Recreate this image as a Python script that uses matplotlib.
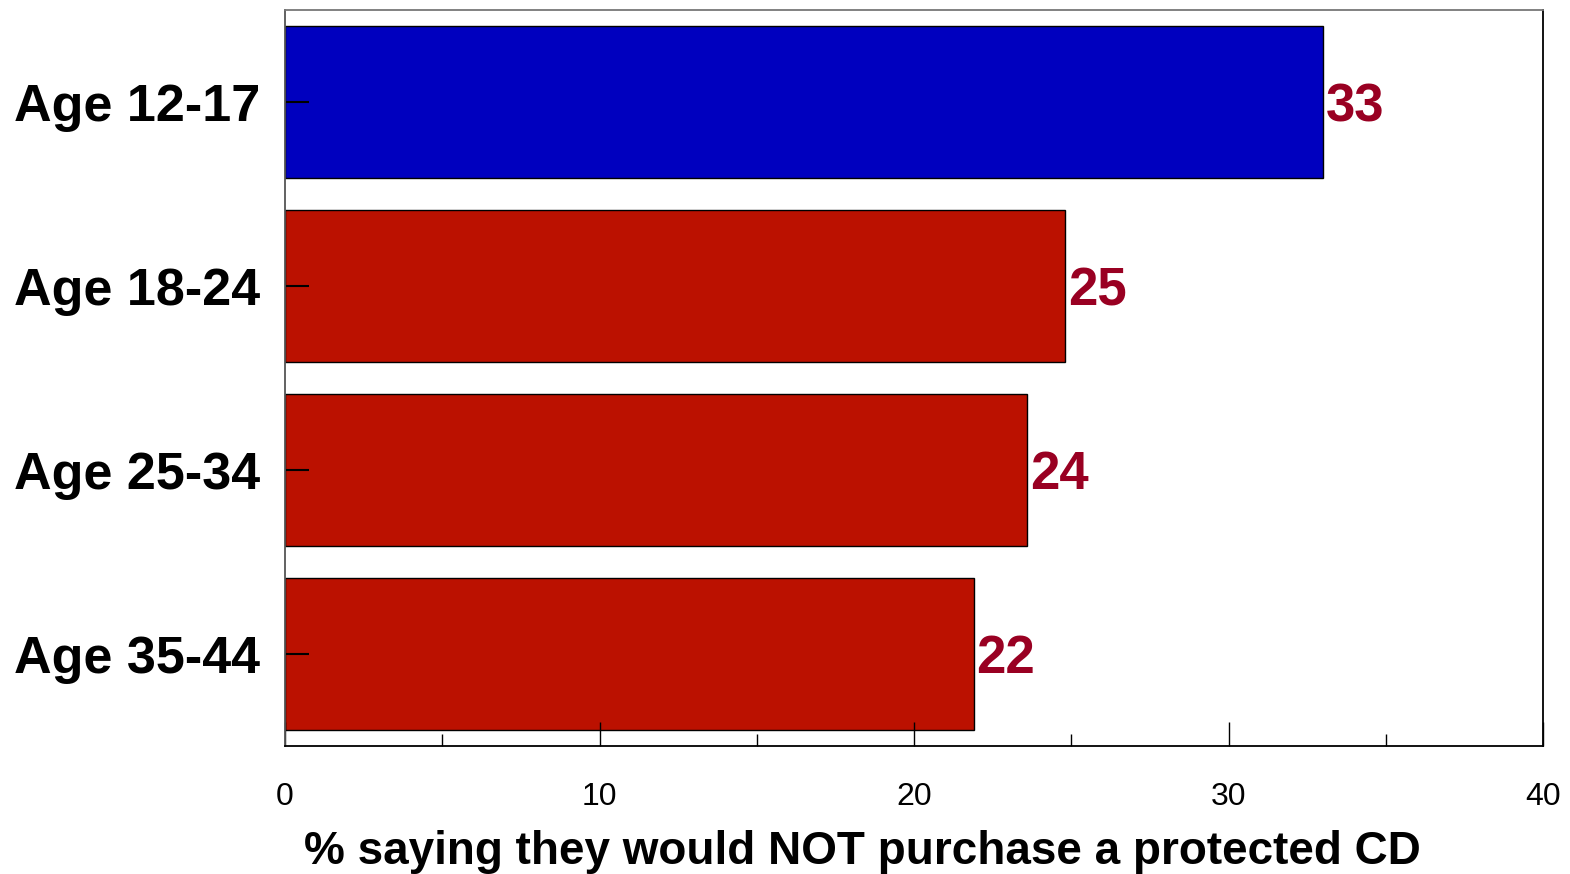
import matplotlib
matplotlib.use("Agg")
import matplotlib.pyplot as plt
from matplotlib.ticker import MultipleLocator

plt.rcParams['font.family'] = ['Liberation Sans', 'DejaVu Sans']

categories = ["Age 12-17", "Age 18-24", "Age 25-34", "Age 35-44"]
values = [33.0, 24.8, 23.6, 21.9]
bar_colors = ["#0000BF", "#BB1100", "#BB1100", "#BB1100"]
x_ticks = [0, 10, 20, 30, 40]
x_label = "% saying they would NOT purchase a protected CD"

fig = plt.figure(figsize=(15.7, 8.74), dpi=100)
ax = fig.add_axes([0.1815, 0.1465, 0.8015, 0.842])

pos = list(range(len(categories)))
ax.barh(pos, values, height=0.83, color=bar_colors, edgecolor="black", linewidth=1.0)
for p, v in zip(pos, values):
    ax.text(v + 0.08, p, f"{round(v):d}", va="center_baseline", ha="left",
            fontsize=38, fontweight="bold", color="#990022")

ax.set_xlim(0, 40)
ax.set_ylim(len(categories) - 0.5, -0.5)
ax.set_yticks(pos)
ax.set_yticklabels(categories, fontsize=37.5, fontweight="bold")
ax.set_xticks(x_ticks)
ax.set_xticklabels([str(t) for t in x_ticks], fontsize=23)
ax.xaxis.set_minor_locator(MultipleLocator(5))
ax.tick_params(axis="x", which="major", direction="in", length=17, width=1, pad=26)
ax.tick_params(axis="x", which="minor", direction="in", length=9, width=1)
ax.tick_params(axis="y", which="major", direction="in", length=17, width=1.5, pad=18)
ax.set_xlabel(x_label, fontsize=33, fontweight="bold")
ax.xaxis.set_label_coords(0.459, -0.1445, transform=ax.transAxes)
ax.xaxis.label.set_va("center")

ax.spines["top"].set_color("#777777")
ax.spines["left"].set_color("#555555")
for s in ax.spines.values():
    s.set_linewidth(1.3)

fig.savefig("out.png", dpi=100)
